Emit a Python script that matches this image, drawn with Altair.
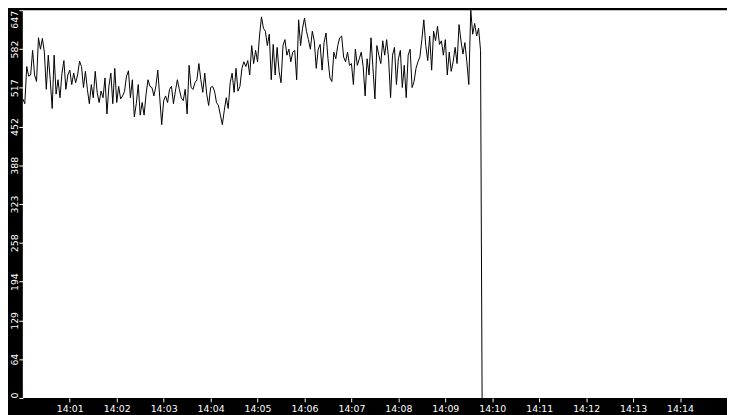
import altair as alt
import pandas as pd

# ---- data (value per 2.5 s sample) ----
seg_1400 = [499, 491, 553, 537, 539, 580, 539, 528, 601, 582,
            600, 577, 515, 572, 531, 483, 572, 507, 531, 501,
            542, 563, 515, 539, 547, 523, 542, 526, 539, 562,
            553, 518, 545, 515, 491, 523, 501, 545, 510, 493]
seg_1401 = [512, 501, 534, 474, 520, 542, 491, 550, 493, 520,
            499, 504, 512, 537, 546, 501, 531, 469, 491, 523,
            472, 493, 472, 507, 531, 520, 518, 504, 520, 547,
            501, 456, 496, 504, 493, 515, 520, 491, 512, 531]
seg_1403 = [515, 501, 496, 515, 474, 555, 518, 515, 526, 531,
            558, 531, 510, 542, 507, 488, 518, 520, 512, 493,
            488, 472, 456, 480, 501, 483, 526, 542, 510, 550,
            512, 520, 550, 561, 553, 563, 539, 588, 558, 580]
seg_1405 = [561, 604, 636, 617, 612, 588, 607, 531, 590, 539,
            585, 545, 526, 588, 598, 572, 582, 561, 577, 580,
            531, 631, 588, 617, 634, 612, 598, 582, 612, 596,
            550, 582, 590, 547, 593, 609, 566, 534, 528, 577]
seg_1406 = [566, 588, 601, 604, 569, 561, 577, 555, 558, 523,
            582, 555, 566, 577, 553, 504, 566, 539, 601, 550,
            499, 588, 572, 558, 596, 572, 598, 566, 501, 572,
            585, 523, 566, 580, 518, 555, 501, 572, 582, 518]
seg_1408 = [528, 550, 561, 569, 598, 631, 588, 563, 604, 547,
            612, 596, 620, 590, 596, 572, 598, 539, 577, 545,
            561, 585, 558, 623, 596, 574, 593, 561, 523, 647,
            607, 625, 604, 617, 580]
drop_values = [287, 0]
drop_seconds = [586, 587]

y_ticks = [0, 64.7, 129.4, 194.1, 258.8, 323.5, 388.2, 452.9, 517.6, 582.3, 647]
x_tick_minutes = [1, 2, 3, 4, 5, 6, 7, 8, 9, 10, 11, 12, 13, 14]

values = seg_1400 + seg_1401 + seg_1403 + seg_1405 + seg_1406 + seg_1408 + drop_values
seconds = [i * 2.5 for i in range(len(values) - len(drop_values))] + drop_seconds


def stamp(sec):
    m = int(sec // 60)
    s = sec - 60 * m
    return f"2024-01-01T14:{m:02d}:{s:06.3f}"


df = pd.DataFrame({"time": [stamp(s) for s in seconds], "value": values})

font = "DejaVu Sans"

x_axis = alt.Axis(
    values=[alt.DateTime(year=2024, month=1, date=1, hours=14, minutes=m) for m in x_tick_minutes],
    format="%H:%M",
    title=None,
    grid=False,
    domain=False,
    ticks=True,
    tickSize=4,
    tickColor="white",
    tickWidth=1,
    labelColor="white",
    labelFont=font,
    labelFontSize=9.5,
    labelPadding=2,
    labelBaseline="top",
)

y_axis = alt.Axis(
    values=y_ticks,
    labelExpr="floor(datum.value)",
    title=None,
    grid=False,
    domain=False,
    tickSize=4,
    tickColor="white",
    tickWidth=1,
    labelColor="white",
    labelFont=font,
    labelFontSize=9.5,
    labelPadding=1,
    labelAngle=270,
    labelBaseline="alphabetic",
    labelAlign={
        "condition": [
            {"test": "datum.value >= 647", "value": "right"},
            {"test": "datum.value <= 0", "value": "left"},
        ],
        "value": "center",
    },
)

chart = (
    alt.Chart(df)
    .mark_line(color="black", strokeWidth=1)
    .encode(
        x=alt.X(
            "time:T",
            scale=alt.Scale(
                domain=[
                    alt.DateTime(year=2024, month=1, date=1, hours=14, minutes=0),
                    alt.DateTime(year=2024, month=1, date=1, hours=14, minutes=15),
                ]
            ),
            axis=x_axis,
        ),
        y=alt.Y("value:Q", scale=alt.Scale(domain=[0, 647], nice=False, zero=True), axis=y_axis),
    )
    .properties(
        width=712,
        height=392,
        background="black",
        padding={"left": 15, "top": 0, "right": 0, "bottom": 15},
        autosize=alt.AutoSizeParams(type="none", contains="content"),
    )
    .configure_view(fill="white", stroke=None, strokeWidth=0)
)

chart.save("out.html", embed_options={"renderer": "svg", "actions": False})
